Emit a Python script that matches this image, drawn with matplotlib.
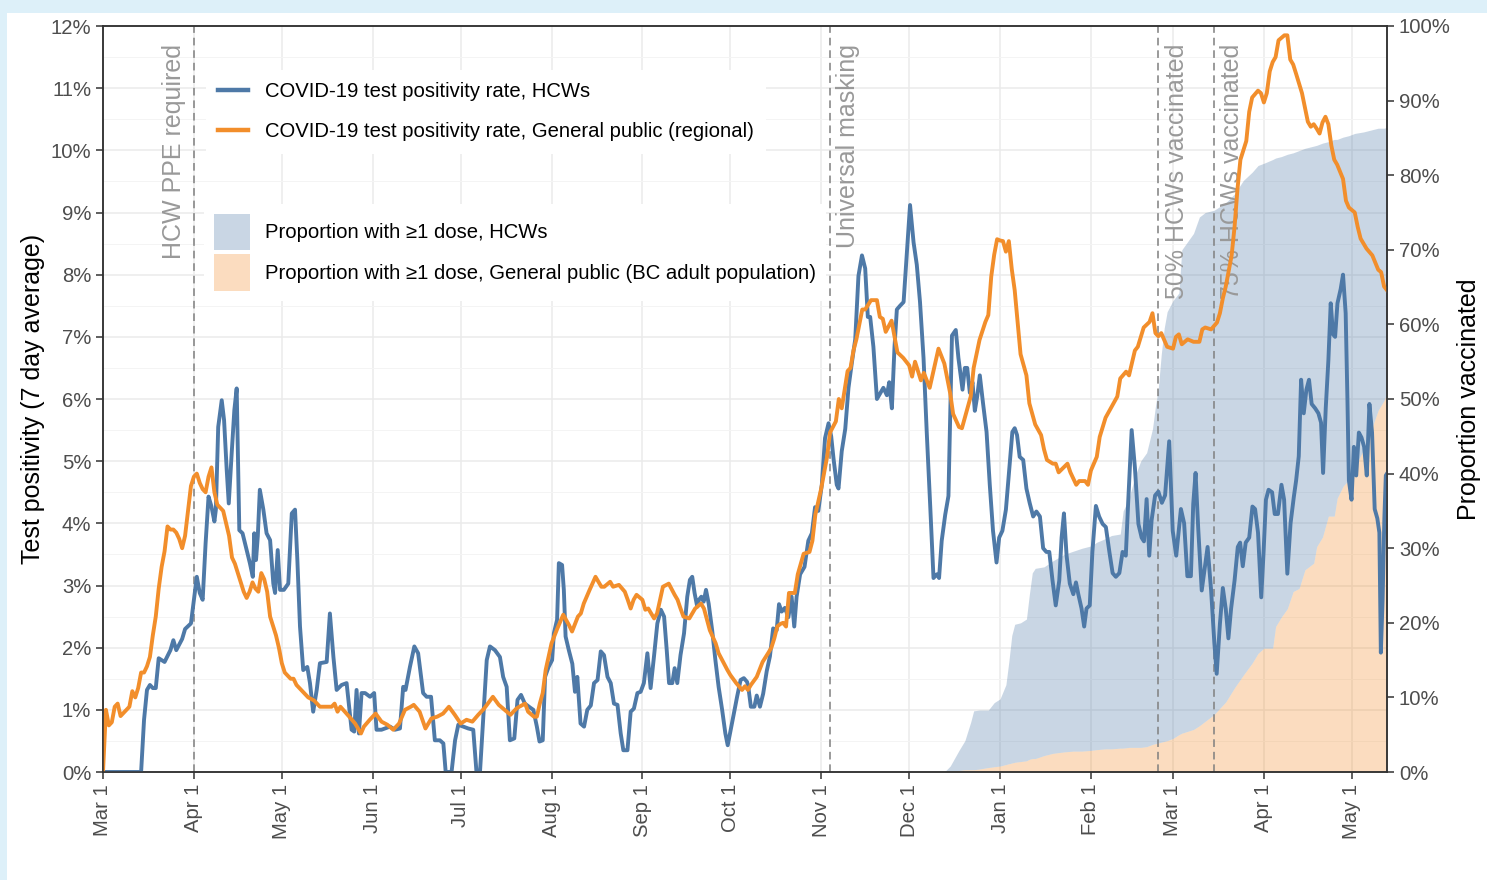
import numpy as np
import pandas as pd
import matplotlib
matplotlib.use('Agg')
import matplotlib.pyplot as plt
from matplotlib.patches import Rectangle, Patch
from matplotlib.lines import Line2D
from matplotlib.legend_handler import HandlerPatch
from matplotlib.ticker import MultipleLocator, FixedLocator

plt.rcParams['font.family'] = ['Liberation Sans', 'DejaVu Sans']

START = pd.Timestamp('2020-03-01')
END_DAY = 438

# ---- HCW test positivity (% , 7-day avg), by day offset from 2020-03-01
hcw_day = [0, 13, 14, 15, 16, 17, 18, 19, 20, 21, 23, 24, 25, 27, 28, 30, 31, 32, 33, 34, 35, 36, 37, 38,
           38.5, 39.3, 40.5, 41.3, 42.2, 42.9, 43.9, 44.8, 45.6, 46.5, 47.6, 49, 50.1, 51.1, 51.6, 52.2,
           52.8, 53.5, 54.7, 55.8, 57, 58.1, 58.7, 59.6, 60.4, 61.7, 63.2, 64.4, 65.5, 66.3, 67.2, 68.3,
           69.7, 70.6, 71.7, 72.9, 74, 76.3, 77.4, 78.6, 79.7, 81.4, 83.1, 83.7, 84.8, 85.7, 86.5, 87.3,
           88.2, 89.4, 91.1, 92.5, 93.3, 95, 96.2, 97.9, 99.6, 101.3, 102.4, 103.2, 104.7, 106.2, 107.5,
           109.2, 110.4, 111.9, 113.2, 114.9, 116.1, 116.9, 118.9, 120.1, 121.2, 122.9, 124.6, 126.3,
           127.4, 128.6, 130.9, 132, 133.7, 135.4, 136.5, 137.7, 138.8, 140.3, 141.4, 142.6, 143.9, 145.6,
           146.8, 148, 148.9, 150, 150.8, 152, 153.2, 153.8, 154.9, 155.5, 156.6, 157.2, 157.8, 158.9,
           160.1, 161, 161.8, 162.9, 164.1, 165.2, 166.4, 167.5, 168.7, 169.8, 170.9, 172.1, 173.2, 174.3,
           175.5, 176.6, 177.5, 178.9, 180, 181.1, 182.3, 183.4, 184.5, 185.7, 186.8, 188, 189.1, 190.3,
           191.4, 192.3, 193.1, 194.2, 195, 195.9, 197, 198.2, 199.3, 200.2, 201, 201.8, 202.7, 203.3,
           204.1, 204.9, 205.7, 206.6, 207.8, 208.9, 210, 211.2, 212.3, 213.1, 214.1, 215.2, 216.3, 217.5,
           218.6, 219.7, 220.1, 221, 222.2, 223, 224.1, 225.2, 226.4, 227.5, 228.6, 229.8, 230.6, 231.5,
           232.6, 233.8, 234.9, 235.8, 236.6, 237.8, 239.3, 240.6, 241.8, 242.9, 244, 245.2, 246.3, 247.5,
           248.4, 249.2, 250.3, 250.9, 252, 253.2, 254.3, 255.5, 256.6, 257.7, 258.9, 260, 260.9, 261.7,
           262.8, 264, 265.1, 266.2, 267.4, 268.2, 269.1, 270, 270.8, 271.9, 273.1, 274.2, 275.3, 276.5,
           277.6, 278.7, 279.9, 281, 282.2, 283.3, 284.4, 285.2, 286.1, 287.3, 288.4, 289, 289.6, 290.9,
           291.8, 293.2, 294, 294.8, 295.7, 296.6, 297.4, 298.2, 299.1, 300.2, 301.4, 302.5, 303.6, 304.8,
           305.7, 306.8, 308, 309.1, 310.2, 311, 311.8, 312.7, 313.9, 315, 316.1, 317.3, 318.4, 319.6,
           320.7, 321.8, 322.8, 323.9, 325, 326.2, 327, 327.8, 328.7, 329.8, 331, 331.9, 332.7, 333.8,
           334.7, 335.5, 336.6, 337.5, 338.7, 339.8, 341, 342.1, 343.3, 344.4, 345.5, 346.7, 347.8, 348.9,
           349.7, 350.9, 352, 353.2, 354.3, 355.1, 356, 356.9, 357.7, 358.9, 360, 361.2, 362.3, 363.7,
           364.9, 366.1, 367.7, 368.8, 369.9, 371.1, 371.9, 372.7, 373.6, 374.8, 375.9, 376.8, 378, 379.1,
           379.9, 381, 382, 383, 383.9, 384.8, 386, 387.1, 387.9, 388.8, 389.8, 391, 392.1, 393, 394,
           395.1, 395.9, 396.7, 397.6, 398.8, 399.7, 400.8, 402, 402.9, 404, 405.1, 406.2, 407, 407.9,
           408.7, 409.6, 410.5, 411.4, 412.3, 413.5, 414.6, 415.5, 416.2, 417.1, 418, 418.8, 419.6, 420.3,
           421.1, 422.2, 423, 423.9, 424.5, 425, 425.9, 426.7, 427.5, 428.4, 429.3, 430.2, 431.1, 432,
           432.9, 433.8, 434.7, 435.4, 435.9, 436.5, 437.1, 437.6, 438]
hcw_pos = [0.0, 0.0, 0.84, 1.32, 1.40, 1.35, 1.35, 1.83, 1.80, 1.77, 1.96, 2.12, 1.96, 2.14, 2.30, 2.39, 2.77,
           3.14, 2.88, 2.77, 3.68, 4.43, 4.27, 4.03, 4.22, 5.55, 5.98, 5.66, 4.86, 4.32, 5.13, 5.82, 6.17,
           3.89, 3.84, 3.57, 3.36, 3.14, 3.84, 3.41, 3.79, 4.54, 4.22, 3.84, 3.73, 3.03, 2.88, 3.57, 2.93,
           2.93, 3.03, 4.16, 4.22, 3.41, 2.34, 1.64, 1.69, 1.43, 0.97, 1.32, 1.75, 1.77, 2.55, 1.85, 1.32,
           1.40, 1.43, 1.16, 0.68, 0.65, 1.32, 0.62, 1.27, 1.27, 1.21, 1.27, 0.68, 0.68, 0.70, 0.73, 0.68,
           0.70, 1.37, 1.32, 1.69, 2.02, 1.91, 1.27, 1.21, 1.21, 0.51, 0.51, 0.46, 0.0, 0.0, 0.51, 0.76,
           0.73, 0.70, 0.68, 0.0, 0.0, 1.80, 2.02, 1.96, 1.85, 1.53, 1.37, 0.51, 0.54, 1.16, 1.24, 1.10,
           1.04, 1.0, 0.73, 0.49, 0.51, 1.53, 1.69, 1.80, 2.23, 2.45, 3.36, 3.33, 2.93, 2.18, 1.96, 1.74,
           1.29, 1.53, 0.78, 0.73, 1.0, 1.07, 1.43, 1.48, 1.94, 1.88, 1.53, 1.43, 1.10, 1.08, 0.62, 0.35,
           0.35, 0.97, 1.02, 1.27, 1.29, 1.43, 1.91, 1.35, 1.88, 2.39, 2.61, 2.50, 1.96, 1.43, 1.43, 1.67,
           1.43, 1.88, 2.23, 2.82, 3.09, 3.14, 2.88, 2.66, 2.77, 2.82, 2.74, 2.93, 2.71, 2.28, 1.80, 1.37,
           1.0, 0.62, 0.43, 0.67, 0.94, 1.21, 1.48, 1.51, 1.45, 1.38, 1.05, 1.05, 1.23, 1.05, 1.26, 1.62,
           1.86, 2.31, 2.28, 2.70, 2.58, 2.64, 2.49, 2.82, 2.34, 2.82, 3.18, 3.30, 3.72, 3.84, 4.26, 4.20,
           4.62, 5.37, 5.61, 5.40, 5.04, 4.62, 4.56, 5.16, 5.52, 6.18, 6.60, 6.96, 7.98, 8.31, 8.10, 7.32,
           7.32, 6.84, 6.00, 6.09, 6.18, 6.06, 6.27, 5.85, 6.84, 7.44, 7.50, 7.56, 8.34, 9.12, 8.52, 8.16,
           7.56, 6.66, 5.46, 4.26, 3.12, 3.18, 3.12, 3.72, 4.14, 4.44, 5.76, 7.02, 7.11, 6.66, 6.15, 6.50,
           6.50, 6.10, 6.27, 5.81, 6.04, 6.38, 5.93, 5.47, 4.62, 3.88, 3.37, 3.77, 3.88, 4.22, 4.85, 5.47,
           5.53, 5.42, 5.07, 5.02, 4.56, 4.33, 4.11, 4.19, 4.11, 3.60, 3.54, 3.54, 3.08, 2.68, 3.08, 3.77,
           4.16, 3.48, 3.03, 2.86, 3.05, 2.86, 2.63, 2.34, 2.63, 2.68, 3.54, 4.28, 4.11, 3.99, 3.94, 3.54,
           3.20, 3.14, 3.20, 3.54, 3.48, 4.33, 5.50, 4.90, 3.99, 3.77, 3.71, 4.39, 3.48, 4.05, 4.45, 4.51,
           4.33, 4.45, 5.32, 3.88, 3.48, 4.23, 4.0, 3.15, 3.15, 4.31, 4.81, 3.92, 2.92, 3.31, 3.62, 2.92,
           2.08, 1.58, 2.38, 2.96, 2.62, 2.15, 2.62, 3.08, 3.62, 3.69, 3.31, 3.69, 3.77, 4.27, 4.23, 3.85,
           2.81, 3.54, 4.38, 4.54, 4.50, 4.15, 4.15, 4.62, 4.38, 3.19, 4.0, 4.42, 4.69, 5.08, 6.31, 5.77,
           6.15, 6.31, 5.92, 5.85, 5.77, 5.62, 4.81, 5.85, 6.62, 7.54, 7.04, 7.0, 7.54, 7.77, 8.0, 7.38,
           6.0, 4.69, 4.38, 5.23, 4.77, 5.46, 5.38, 5.23, 4.77, 5.92, 5.46, 4.23, 4.08, 3.85, 1.92, 2.77,
           4.08, 4.77, 4.8]

# ---- General public (regional) test positivity (%)
gp_day = [0, 1, 2, 3, 4, 5, 6, 8, 9, 10, 11, 12, 13, 14, 15, 16, 17, 18, 19, 20, 21, 22, 23, 24, 25, 26, 27,
          28, 29, 30, 31, 32, 33, 34, 35, 36, 37, 38, 39, 40, 41, 42, 43, 44, 45, 46, 47, 48, 49, 50, 51, 52,
          53, 54, 55, 56, 57, 58, 59, 60, 61, 62, 63, 64, 65, 66, 67, 68, 70, 72, 74, 76, 78, 79, 80, 81, 84,
          86, 88, 89, 91, 93, 95, 97, 99, 101, 103, 105, 106, 108, 110, 112, 114, 116, 118, 120, 122, 124,
          126, 128, 130, 133, 135, 137, 139, 141, 142, 144, 145, 147, 148, 149, 150, 151, 153, 155, 157,
          159, 160, 162, 163, 164, 166, 168, 170, 171, 173, 174, 176, 178, 179, 180, 181, 182, 184, 185,
          186, 187, 188, 189, 191, 193, 195, 196, 197, 198, 200, 202, 204, 205, 207, 209, 210, 213, 214,
          216, 218, 219, 220, 221, 223, 225, 227, 228, 229, 230, 231, 232, 233, 234, 236, 237, 239, 241,
          242, 243, 245, 247, 248, 250, 251, 252, 254, 255, 256, 257, 259, 260, 262, 264, 265, 266, 267,
          269, 271, 273, 275, 276, 277, 279, 280, 282, 284, 285, 287, 289, 290, 292, 293, 294, 296, 297,
          299, 301, 302, 303, 304, 305, 306, 307, 308, 309, 310, 311, 312, 313, 315, 316, 318, 320, 321,
          322, 324, 325, 326, 329, 330, 332, 333, 335, 336, 337, 339, 340, 342, 344, 346, 347, 349, 350,
          352, 353, 355, 357, 358, 359, 360, 361, 363, 365, 366, 367, 368, 370, 372, 374, 375, 376, 378,
          380, 381, 382, 383, 385, 386, 387, 388, 390, 391, 392, 394, 395, 396, 397, 398, 399, 400, 401,
          403, 404, 405, 406, 407, 409, 411, 412, 413, 414, 415, 416, 417, 418, 419, 420, 421, 423, 424,
          425, 427, 428, 429, 431, 433, 435, 436, 437, 438]
gp_pos = [0.0, 1.0, 0.75, 0.8, 1.05, 1.1, 0.9, 1.0, 1.05, 1.3, 1.2, 1.35, 1.6, 1.6, 1.7, 1.85, 2.2, 2.5, 2.95,
          3.3, 3.55, 3.95, 3.9, 3.9, 3.85, 3.75, 3.6, 3.8, 4.2, 4.6, 4.75, 4.8, 4.65, 4.55, 4.5, 4.75, 4.9,
          4.5, 4.3, 4.25, 4.2, 4.0, 3.8, 3.45, 3.35, 3.2, 3.05, 2.9, 2.8, 2.9, 3.05, 2.95, 2.9, 3.2, 3.1,
          2.9, 2.5, 2.35, 2.2, 2.0, 1.75, 1.6, 1.55, 1.5, 1.5, 1.4, 1.35, 1.3, 1.2, 1.15, 1.05, 1.05, 1.05,
          1.1, 0.97, 1.05, 0.89, 0.78, 0.62, 0.73, 0.84, 0.94, 0.81, 0.76, 0.68, 0.78, 1.0, 1.05, 1.08,
          0.97, 0.70, 0.86, 0.89, 0.94, 1.05, 0.92, 0.78, 0.84, 0.81, 0.92, 1.02, 1.21, 1.08, 1.0, 0.92,
          1.02, 1.05, 1.10, 0.97, 0.89, 0.89, 1.10, 1.27, 1.64, 2.07, 2.31, 2.53, 2.36, 2.26, 2.50, 2.55,
          2.71, 2.93, 3.14, 2.98, 2.98, 3.06, 2.98, 3.01, 2.90, 2.77, 2.63, 2.77, 2.85, 2.77, 2.61, 2.63,
          2.55, 2.47, 2.55, 2.98, 3.03, 2.85, 2.77, 2.63, 2.50, 2.47, 2.63, 2.71, 2.63, 2.28, 2.07, 1.91,
          1.64, 1.56, 1.43, 1.32, 1.38, 1.32, 1.40, 1.53, 1.77, 1.92, 2.0, 2.15, 2.34, 2.38, 2.4, 2.34,
          2.88, 2.88, 3.18, 3.51, 3.54, 3.72, 4.14, 4.56, 5.07, 5.46, 5.64, 6.0, 5.85, 6.45, 6.5, 6.78,
          6.96, 7.44, 7.44, 7.59, 7.59, 7.32, 7.29, 7.08, 7.26, 6.75, 6.66, 6.54, 6.36, 6.60, 6.30, 6.42,
          6.18, 6.60, 6.81, 6.57, 6.09, 5.76, 5.55, 5.53, 5.70, 6.04, 6.50, 6.95, 7.24, 7.35, 7.97, 8.32,
          8.57, 8.55, 8.54, 8.37, 8.54, 8.09, 7.75, 7.24, 6.72, 6.38, 5.93, 5.59, 5.42, 5.19, 5.02, 4.96,
          4.96, 4.82, 4.96, 4.82, 4.62, 4.68, 4.68, 4.62, 4.85, 5.07, 5.39, 5.70, 5.87, 6.04, 6.33, 6.44,
          6.38, 6.78, 6.84, 7.15, 7.24, 7.38, 7.06, 7.01, 7.06, 6.84, 6.81, 7.0, 7.04, 6.88, 6.96, 6.92,
          6.92, 7.12, 7.15, 7.12, 7.23, 7.38, 7.62, 7.81, 8.31, 8.77, 9.38, 9.85, 10.15, 10.62, 10.85,
          10.96, 10.92, 10.77, 10.92, 11.27, 11.42, 11.5, 11.77, 11.85, 11.85, 11.46, 11.38, 11.23, 10.92,
          10.46, 10.38, 10.42, 10.35, 10.27, 10.45, 10.54, 10.42, 10.08, 9.85, 9.77, 9.54, 9.19, 9.08,
          9.0, 8.77, 8.58, 8.42, 8.31, 8.08, 8.04, 7.81, 7.75]

# ---- Proportion with >=1 dose (% , right axis)
vax_day = [287, 289, 292, 294, 296, 297, 299, 302, 304, 306, 308, 309, 310, 311, 313, 315, 316, 317, 318, 321,
           324, 328, 331, 334, 337, 339, 342, 344, 347, 348, 350, 352, 354, 356, 358, 359, 360, 361, 362,
           363, 365, 367, 368, 372, 374, 376, 379, 383, 386, 389, 392, 394, 396, 399, 400, 402, 404, 406,
           408, 410, 413, 414, 416, 418, 420, 421, 423, 425, 427, 430, 432, 433, 435, 437, 438]
vax_hcw = [0, 0.8, 2.9, 4.2, 6.7, 8.2, 8.3, 8.3, 9.3, 9.8, 11.7, 14.8, 18.3, 19.8, 20.0, 20.5, 23.8, 26.7,
           27.3, 27.5, 28.3, 29.2, 29.6, 30.0, 30.3, 30.8, 31.3, 31.7, 31.9, 35.0, 36.7, 39.6, 41.7, 42.8,
           46.0, 49.0, 51.5, 56.0, 59.5, 61.7, 63.2, 64.2, 70.0, 72.2, 74.4, 75.0, 75.3, 76.3, 77.5, 79.3,
           80.4, 81.3, 81.6, 82.1, 82.3, 82.5, 82.8, 83.0, 83.3, 83.6, 83.9, 84.0, 84.3, 84.5, 84.8, 84.8,
           85.1, 85.3, 85.6, 85.8, 86.0, 86.1, 86.3, 86.3, 86.4]
vax_gp = [0, 0.1, 0.2, 0.3, 0.3, 0.3, 0.4, 0.6, 0.7, 0.8, 1.0, 1.1, 1.2, 1.3, 1.4, 1.5, 1.7, 1.8, 1.8, 2.2,
          2.5, 2.7, 2.8, 2.8, 2.9, 3.0, 3.1, 3.1, 3.2, 3.2, 3.3, 3.3, 3.3, 3.4, 3.7, 3.8, 3.9, 4.0, 4.1, 4.2,
          4.5, 5.0, 5.2, 5.7, 6.2, 6.8, 7.7, 9.4, 11.3, 13.0, 14.6, 15.9, 16.6, 16.6, 19.5, 20.8, 21.9, 24.2,
          24.6, 27.1, 28.0, 30.2, 31.5, 34.3, 34.3, 36.7, 38.3, 39.2, 40.9, 43.2, 44.5, 46.3, 48.5, 49.8, 50.8]

event_dates = ['2020-04-01', '2020-11-04', '2021-02-24', '2021-03-15']
event_labels = ['HCW PPE required', 'Universal masking', '50% HCWs vaccinated', '75% HCWs vaccinated']
event_side = ['left', 'right', 'right', 'right']

month_ticks = pd.date_range('2020-03-01', '2021-05-01', freq='MS')
month_labels = [d.strftime('%b') + ' 1' for d in month_ticks]
left_ticks = list(range(0, 13))
left_labels = [f'{v}%' for v in left_ticks]
right_ticks = list(range(0, 101, 10))
right_labels = [f'{v}%' for v in right_ticks]

legend_lines = ['COVID-19 test positivity rate, HCWs',
                'COVID-19 test positivity rate, General public (regional)']
legend_areas = ['Proportion with \u22651 dose, HCWs',
                'Proportion with \u22651 dose, General public (BC adult population)']

BLUE = '#4e79a7'
ORANGE = '#f28e2b'
AREA_BLUE = '#c9d6e4'
AREA_ORANGE = '#fbdcbf'


def to_dates(days):
    return START + pd.to_timedelta(np.asarray(days, dtype=float), unit='D')


W, H = 1487, 880
fig = plt.figure(figsize=(W / 100, H / 100), dpi=100)
fig.patch.set_facecolor('#ddf0f9')
fig.add_artist(Rectangle((7 / W, 0), 1, (H - 13) / H, transform=fig.transFigure,
                         facecolor='white', edgecolor='none', zorder=-5))

ax = fig.add_axes([103 / W, (H - 772) / H, 1284 / W, 746 / H])
ax.set_facecolor('white')
ax2 = ax.twinx()

# grid
ax.set_axisbelow(True)
ax.yaxis.set_major_locator(FixedLocator(left_ticks))
ax.yaxis.set_minor_locator(MultipleLocator(0.5))
ax.grid(True, which='major', axis='both', color='#ebebeb', lw=1.1)
ax.grid(True, which='minor', axis='y', color='#f4f4f4', lw=0.7)

vdates = to_dates(vax_day)
ax.fill_between(vdates, 0, vax_gp, transform=ax2.transData, color=ORANGE, alpha=0.3,
                lw=0, zorder=1)
ax.fill_between(vdates, vax_gp, vax_hcw, transform=ax2.transData, color=BLUE, alpha=0.3,
                lw=0, zorder=1)

for d, lab, side in zip(event_dates, event_labels, event_side):
    dt = pd.Timestamp(d)
    ax.axvline(dt, color='#7f7f7f', lw=1.1, ls=(0, (5, 3.2)), zorder=1.5)
    off = -5.5 if side == 'left' else 4.5
    ax.annotate(lab, xy=(dt, (772 - 44) / 746), xycoords=('data', 'axes fraction'),
                xytext=(off, 0), textcoords='offset points', rotation=90,
                ha='right' if side == 'left' else 'left', va='top',
                fontsize=18, color='#999999', zorder=1.6)

l1, = ax.plot(to_dates(hcw_day), hcw_pos, color=BLUE, lw=2.8, zorder=3,
              solid_joinstyle='round')
l2, = ax.plot(to_dates(gp_day), gp_pos, color=ORANGE, lw=2.8, zorder=3.1,
              solid_joinstyle='round')

ax.set_xlim(START, START + pd.Timedelta(days=END_DAY))
ax.set_ylim(0, 12)
ax2.set_ylim(0, 100)

ax.set_xticks(month_ticks)
ax.set_xticklabels(month_labels, rotation=90, ha='center', va='top')
ax.set_yticklabels(left_labels)
ax2.set_yticks(right_ticks)
ax2.set_yticklabels(right_labels)

for a in (ax, ax2):
    a.tick_params(axis='both', which='major', direction='out', length=5, width=1.1,
                  color='#333333', labelsize=14.6, labelcolor='#4d4d4d', pad=3.5)
    a.tick_params(axis='both', which='minor', length=0)
    for s in a.spines.values():
        s.set_color('#333333')
        s.set_linewidth(1.1)

ax.set_ylabel('Test positivity (7 day average)', fontsize=18, color='black')
ax.yaxis.set_label_coords((45 - 103) / 1284, 0.5)
ax2.set_ylabel('Proportion vaccinated', fontsize=18, color='black', rotation=90)
ax2.yaxis.set_label_coords((1457 - 103) / 1284, 0.5)


def full_rect(legend, orig_handle, xdescent, ydescent, width, height, fontsize):
    return Rectangle((-xdescent, -ydescent), width, height)


FS = 14.6
leg1 = ax2.legend([Line2D([], [], color=BLUE, lw=3.2), Line2D([], [], color=ORANGE, lw=3.2)],
                  legend_lines, loc='upper left', bbox_to_anchor=(206 / W, 1 - 70 / H),
                  bbox_transform=fig.transFigure, fontsize=FS, frameon=True, facecolor='white',
                  edgecolor='none', framealpha=1, fancybox=False, handlelength=1.48,
                  handletextpad=0.83, labelspacing=1.05, borderpad=0.6, borderaxespad=0)
ax2.add_artist(leg1)
leg2 = ax2.legend([Patch(facecolor=AREA_BLUE, edgecolor='none'),
                   Patch(facecolor=AREA_ORANGE, edgecolor='none')],
                  legend_areas, loc='upper left', bbox_to_anchor=(204 / W, 1 - 204 / H),
                  bbox_transform=fig.transFigure, fontsize=FS, frameon=True, facecolor='white',
                  edgecolor='none', framealpha=1, fancybox=False, handlelength=1.78,
                  handleheight=2.37, handletextpad=0.72, labelspacing=0.2, borderpad=0.5,
                  borderaxespad=0,
                  handler_map={Patch: HandlerPatch(patch_func=full_rect)})

fig.savefig('out.png', dpi=100, facecolor=fig.get_facecolor())
